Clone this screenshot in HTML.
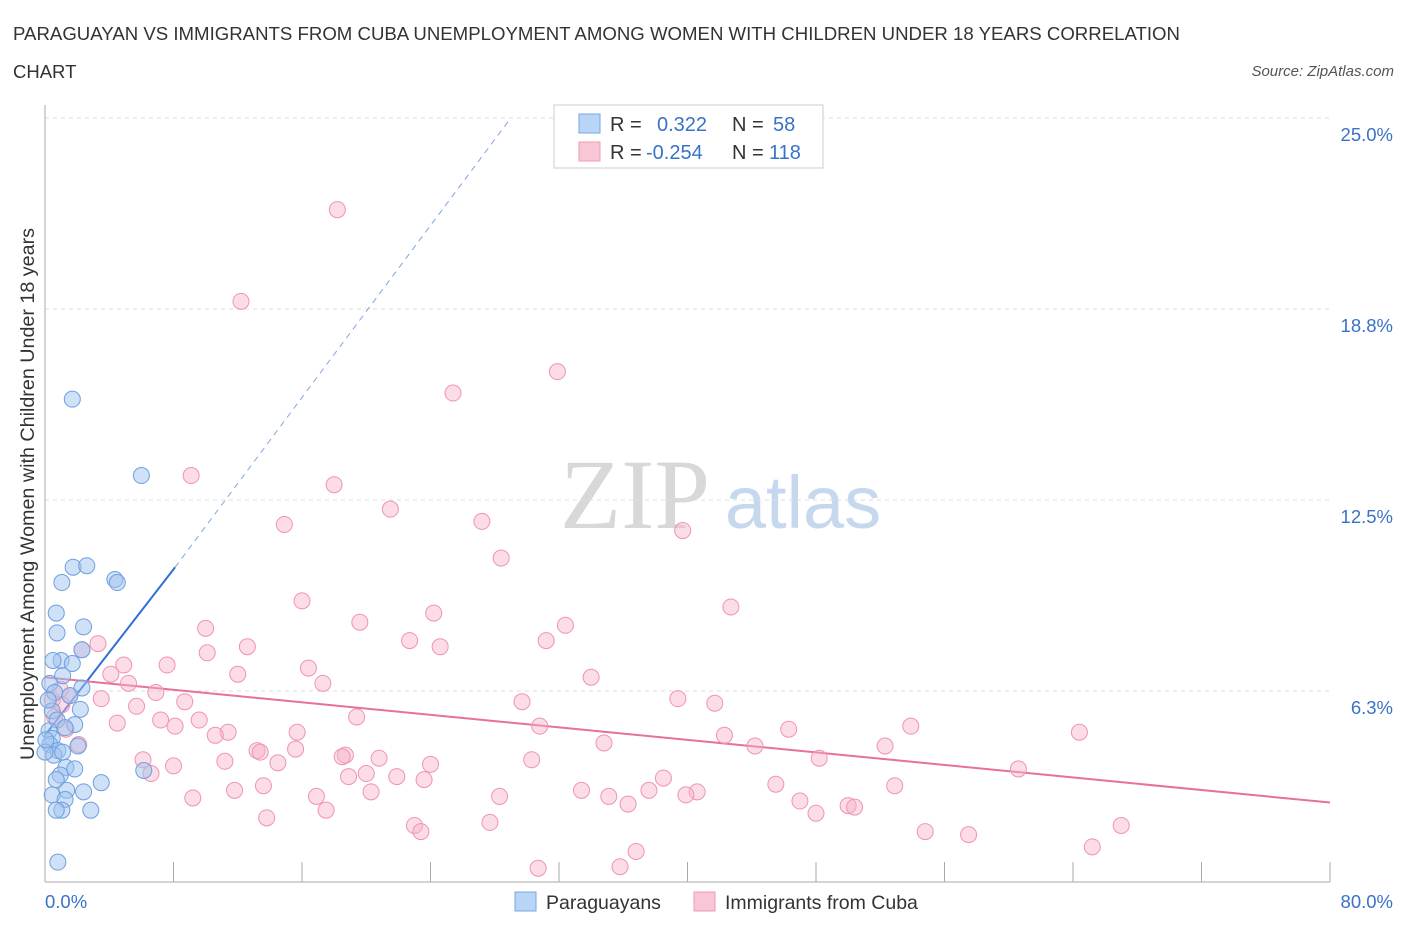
<!DOCTYPE html>
<html><head><meta charset="utf-8">
<style>
body{margin:0;background:#fff;font-family:"Liberation Sans",sans-serif;}
svg{display:block}
</style></head>
<body>
<svg id="chart" width="1406" height="930">
<text x="13" y="40" font-size="18.5" fill="#333" textLength="1167" lengthAdjust="spacingAndGlyphs">PARAGUAYAN VS IMMIGRANTS FROM CUBA UNEMPLOYMENT AMONG WOMEN WITH CHILDREN UNDER 18 YEARS CORRELATION</text>
<text x="13" y="78" font-size="18.5" fill="#333">CHART</text>
<text x="1394" y="76" font-size="15" fill="#555" font-style="italic" text-anchor="end">Source: ZipAtlas.com</text>
<text x="635" y="528" font-size="100" fill="#d8d8d8" font-family="Liberation Serif,serif" text-anchor="middle">ZIP</text>
<text x="803" y="528" font-size="74" fill="#c6d8ee" text-anchor="middle">atlas</text>
<text transform="translate(34,494) rotate(-90)" font-size="19" fill="#333" text-anchor="middle" textLength="532" lengthAdjust="spacingAndGlyphs">Unemployment Among Women with Children Under 18 years</text>
<g id="grid"></g><g id="axes"></g><g id="lines"></g><g id="pts"></g>
<g>
<rect x="554" y="105" width="269" height="63" fill="#fff" stroke="#ccc"/>
<rect x="579" y="114" width="21" height="19" fill="#b8d4f6" stroke="#7aa7e0"/>
<rect x="579" y="142" width="21" height="19" fill="#f9c6d6" stroke="#ef9ab6"/>
<text x="610" y="131" font-size="20" fill="#333">R = <tspan fill="#3a72c8" x="657">0.322</tspan><tspan x="732" fill="#333">N = </tspan><tspan fill="#3a72c8" x="773">58</tspan></text>
<text x="610" y="159" font-size="20" fill="#333">R = <tspan fill="#3a72c8" x="646">-0.254</tspan><tspan x="732" fill="#333">N = </tspan><tspan fill="#3a72c8" x="769">118</tspan></text>
</g>
<g>
<rect x="515" y="892" width="21" height="19" fill="#b8d4f6" stroke="#7aa7e0"/>
<text x="546" y="909" font-size="19.5" fill="#333">Paraguayans</text>
<rect x="694" y="892" width="21" height="19" fill="#f9c6d6" stroke="#ef9ab6"/>
<text x="725" y="909" font-size="19.5" fill="#333">Immigrants from Cuba</text>
</g>
</svg>
<script>
const yTicks=[6.25,12.5,18.75,25];
const yTickLabels=["6.3%","12.5%","18.8%","25.0%"];
const xTicks=[0,8,16,24,32,40,48,56,64,72,80];
const xMinLabel="0.0%", xMaxLabel="80.0%";
const blueX=[1.7,6.0,1.75,2.6,4.35,4.5,1.05,0.7,0.75,2.4,2.3,1.0,1.7,0.5,1.1,0.3,2.3,0.6,1.55,0.45,2.2,0.75,1.85,0.25,1.25,0.45,0.3,2.05,0.8,0.55,1.1,0.0,1.3,1.85,0.95,0.7,6.15,3.5,1.35,2.4,0.45,1.25,1.05,0.7,2.85,0.8,0.2,0.05];
const blueY=[15.8,13.3,10.3,10.35,9.9,9.8,9.8,8.8,8.15,8.35,7.6,7.25,7.15,7.25,6.75,6.5,6.35,6.2,6.1,5.6,5.65,5.3,5.15,4.95,5.05,4.7,4.5,4.45,4.3,4.15,4.25,4.25,3.75,3.7,3.5,3.35,3.65,3.25,3.0,2.95,2.85,2.7,2.35,2.35,2.35,0.65,5.95,4.65];
const pinkX=[18.2,12.2,31.9,25.4,9.1,18.0,21.5,14.9,27.2,39.7,28.4,42.7,16.0,24.2,19.6,10.0,32.4,22.7,31.2,3.3,24.6,12.6,10.1,2.3,7.6,4.9,16.4,4.1,12.0,34.0,5.2,17.3,6.9,39.4,3.5,8.7,29.7,41.7,5.7,19.4,7.2,9.6,4.5,53.9,8.1,30.8,46.3,11.4,64.4,15.7,10.6,42.3,34.8,52.3,44.2,2.1,15.6,13.2,13.4,18.7,18.5,20.8,48.2,6.1,30.3,11.2,8.0,24.0,14.5,6.6,20.0,18.9,38.5,60.6,21.9,23.6,45.5,13.6,52.9,37.6,33.4,11.8,20.3,40.6,39.9,9.2,16.9,28.3,35.1,47.0,36.3,50.0,50.4,17.5,48.0,13.8,27.7,67.0,23.0,23.4,54.8,57.5,36.8,65.2,30.7,35.8,1.05,0.6,1.55,0.45,0.95,1.3];
const pinkY=[22.0,19.0,16.7,16.0,13.3,13.0,12.2,11.7,11.8,11.5,10.6,9.0,9.2,8.8,8.5,8.3,8.4,7.9,7.9,7.8,7.7,7.7,7.5,7.6,7.1,7.1,7.0,6.8,6.8,6.7,6.5,6.5,6.2,6.0,6.0,5.9,5.9,5.85,5.75,5.4,5.3,5.3,5.2,5.1,5.1,5.1,5.0,4.9,4.9,4.9,4.8,4.8,4.55,4.45,4.45,4.5,4.35,4.3,4.25,4.15,4.1,4.05,4.05,4.0,4.0,3.95,3.8,3.85,3.9,3.55,3.55,3.45,3.4,3.7,3.45,3.35,3.2,3.15,3.15,3.0,3.0,3.0,2.95,2.95,2.85,2.75,2.8,2.8,2.8,2.65,2.55,2.5,2.45,2.35,2.25,2.1,1.95,1.85,1.85,1.65,1.65,1.55,1.0,1.15,0.45,0.5,5.8,5.4,6.1,5.95,6.3,5.0];
const blueTrend=[[0,4.8],[8.1,10.3]], blueDash=[[8.1,10.3],[29,25]];
const pinkTrend=[[0,6.7],[80,2.6]];

const X=v=>45+v*(1330-45)/80;
const Y=v=>882-v*(882-691)/6.25;
const NS="http://www.w3.org/2000/svg";
function mk(tag,attrs,parent){const e=document.createElementNS(NS,tag);for(const k in attrs)e.setAttribute(k,attrs[k]);document.getElementById(parent).appendChild(e);return e;}
yTicks.forEach((t,i)=>{
 const g=mk('line',{x1:45,x2:1330,y1:Y(t),y2:Y(t),stroke:'#ddd','stroke-dasharray':'4,4'},'grid');
 
 
 const l=mk('text',{x:1393,y:Y(t)+23,'font-size':18.5,fill:'#3a72c8','text-anchor':'end'},'grid');
 l.textContent=yTickLabels[i];
 
 
});
const ax=mk('line',{x1:45,x2:1330,y1:882,y2:882,stroke:'#aaa'},'axes');


const ay=mk('line',{x1:45,x2:45,y1:105,y2:882,stroke:'#aaa'},'axes');


xTicks.forEach(t=>{
 const tk=mk('line',{x1:X(t),x2:X(t),y1:882,y2:862,stroke:'#aaa'},'axes');
 
 
});
const xl0=mk('text',{x:45,y:908,'font-size':18.5,fill:'#3a72c8'},'axes');xl0.textContent=xMinLabel;


const xl1=mk('text',{x:1393,y:908,'font-size':18.5,fill:'#3a72c8','text-anchor':'end'},'axes');xl1.textContent=xMaxLabel;


pinkX.forEach((v,i)=>{
 const c=mk('circle',{cx:X(v),cy:Y(pinkY[i]),r:8,fill:'rgba(248,178,200,0.45)',stroke:'#ef94b2','stroke-width':1},'pts');
 
 
});
blueX.forEach((v,i)=>{
 const c=mk('circle',{cx:X(v),cy:Y(blueY[i]),r:8,fill:'rgba(160,196,240,0.5)',stroke:'#6e9fdf','stroke-width':1},'pts');
 
 
});
const bl=mk('line',{x1:X(blueTrend[0][0]),y1:Y(blueTrend[0][1]),x2:X(blueTrend[1][0]),y2:Y(blueTrend[1][1]),stroke:'#2f6fd6','stroke-width':2},'lines');


const bd=mk('line',{x1:X(blueDash[0][0]),y1:Y(blueDash[0][1]),x2:X(blueDash[1][0]),y2:Y(blueDash[1][1]),stroke:'#7ea6e0','stroke-width':1,'stroke-dasharray':'6,5'},'lines');


const pl=mk('line',{x1:X(pinkTrend[0][0]),y1:Y(pinkTrend[0][1]),x2:X(pinkTrend[1][0]),y2:Y(pinkTrend[1][1]),stroke:'#e8709a','stroke-width':2},'lines');


</script>
</body></html>
